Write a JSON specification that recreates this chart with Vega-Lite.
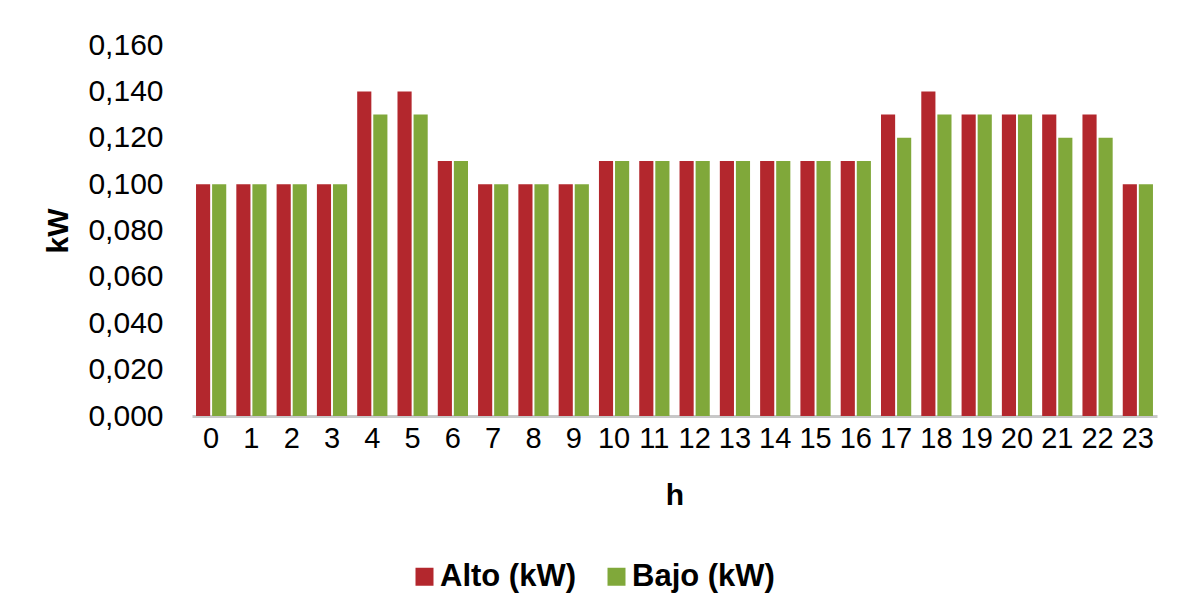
{
  "$schema": "https://vega.github.io/schema/vega-lite/v6.json",
  "autosize": {"type": "none"},
  "width": 965,
  "height": 371,
  "padding": {"left": 192, "top": 45, "right": 27, "bottom": 197},
  "background": "white",
  "config": {
    "locale": {"number": {"decimal": ",", "thousands": ".", "grouping": [3], "currency": ["", " €"]}},
    "view": {"stroke": null},
    "font": "Liberation Sans"
  },
  "data": {"values": [
    {"h": 0, "serie": "Alto (kW)", "kW": 0.10}, {"h": 0, "serie": "Bajo (kW)", "kW": 0.10},
    {"h": 1, "serie": "Alto (kW)", "kW": 0.10}, {"h": 1, "serie": "Bajo (kW)", "kW": 0.10},
    {"h": 2, "serie": "Alto (kW)", "kW": 0.10}, {"h": 2, "serie": "Bajo (kW)", "kW": 0.10},
    {"h": 3, "serie": "Alto (kW)", "kW": 0.10}, {"h": 3, "serie": "Bajo (kW)", "kW": 0.10},
    {"h": 4, "serie": "Alto (kW)", "kW": 0.14}, {"h": 4, "serie": "Bajo (kW)", "kW": 0.13},
    {"h": 5, "serie": "Alto (kW)", "kW": 0.14}, {"h": 5, "serie": "Bajo (kW)", "kW": 0.13},
    {"h": 6, "serie": "Alto (kW)", "kW": 0.11}, {"h": 6, "serie": "Bajo (kW)", "kW": 0.11},
    {"h": 7, "serie": "Alto (kW)", "kW": 0.10}, {"h": 7, "serie": "Bajo (kW)", "kW": 0.10},
    {"h": 8, "serie": "Alto (kW)", "kW": 0.10}, {"h": 8, "serie": "Bajo (kW)", "kW": 0.10},
    {"h": 9, "serie": "Alto (kW)", "kW": 0.10}, {"h": 9, "serie": "Bajo (kW)", "kW": 0.10},
    {"h": 10, "serie": "Alto (kW)", "kW": 0.11}, {"h": 10, "serie": "Bajo (kW)", "kW": 0.11},
    {"h": 11, "serie": "Alto (kW)", "kW": 0.11}, {"h": 11, "serie": "Bajo (kW)", "kW": 0.11},
    {"h": 12, "serie": "Alto (kW)", "kW": 0.11}, {"h": 12, "serie": "Bajo (kW)", "kW": 0.11},
    {"h": 13, "serie": "Alto (kW)", "kW": 0.11}, {"h": 13, "serie": "Bajo (kW)", "kW": 0.11},
    {"h": 14, "serie": "Alto (kW)", "kW": 0.11}, {"h": 14, "serie": "Bajo (kW)", "kW": 0.11},
    {"h": 15, "serie": "Alto (kW)", "kW": 0.11}, {"h": 15, "serie": "Bajo (kW)", "kW": 0.11},
    {"h": 16, "serie": "Alto (kW)", "kW": 0.11}, {"h": 16, "serie": "Bajo (kW)", "kW": 0.11},
    {"h": 17, "serie": "Alto (kW)", "kW": 0.13}, {"h": 17, "serie": "Bajo (kW)", "kW": 0.12},
    {"h": 18, "serie": "Alto (kW)", "kW": 0.14}, {"h": 18, "serie": "Bajo (kW)", "kW": 0.13},
    {"h": 19, "serie": "Alto (kW)", "kW": 0.13}, {"h": 19, "serie": "Bajo (kW)", "kW": 0.13},
    {"h": 20, "serie": "Alto (kW)", "kW": 0.13}, {"h": 20, "serie": "Bajo (kW)", "kW": 0.13},
    {"h": 21, "serie": "Alto (kW)", "kW": 0.13}, {"h": 21, "serie": "Bajo (kW)", "kW": 0.12},
    {"h": 22, "serie": "Alto (kW)", "kW": 0.13}, {"h": 22, "serie": "Bajo (kW)", "kW": 0.12},
    {"h": 23, "serie": "Alto (kW)", "kW": 0.10}, {"h": 23, "serie": "Bajo (kW)", "kW": 0.10}
  ]},
  "mark": {"type": "bar"},
  "encoding": {
    "x": {
      "field": "h", "type": "ordinal", "title": "h",
      "scale": {"paddingInner": 0.25, "paddingOuter": 0.1},
      "axis": {
        "labelAngle": 0, "labelFontSize": 29, "labelColor": "#000", "labelPadding": 8,
        "ticks": false, "domainColor": "#c8c8c8", "domainWidth": 3,
        "titleFontSize": 30, "titleFontWeight": "bold", "titleColor": "#000", "titlePadding": 27
      }
    },
    "xOffset": {"field": "serie", "type": "nominal", "scale": {"paddingInner": 0.12}},
    "y": {
      "field": "kW", "type": "quantitative", "title": "kW",
      "scale": {"domain": [0, 0.16]},
      "axis": {
        "values": [0, 0.02, 0.04, 0.06, 0.08, 0.1, 0.12, 0.14, 0.16],
        "format": ".3f", "grid": false, "domain": false, "ticks": false,
        "labelFontSize": 30, "labelColor": "#000", "labelPadding": 29,
        "titleFontSize": 30, "titleFontWeight": "bold", "titleColor": "#000", "titlePadding": 14
      }
    },
    "color": {
      "field": "serie", "type": "nominal",
      "scale": {"domain": ["Alto (kW)", "Bajo (kW)"], "range": ["#b3272d", "#80a83a"]},
      "legend": {
        "title": null, "orient": "none", "direction": "horizontal",
        "legendX": 217, "legendY": 516,
        "symbolType": "square", "symbolSize": 324, "symbolStrokeWidth": 0,
        "labelFontSize": 31, "labelFontWeight": "bold", "labelColor": "#000",
        "columnPadding": 24, "labelOffset": 0
      }
    }
  }
}
